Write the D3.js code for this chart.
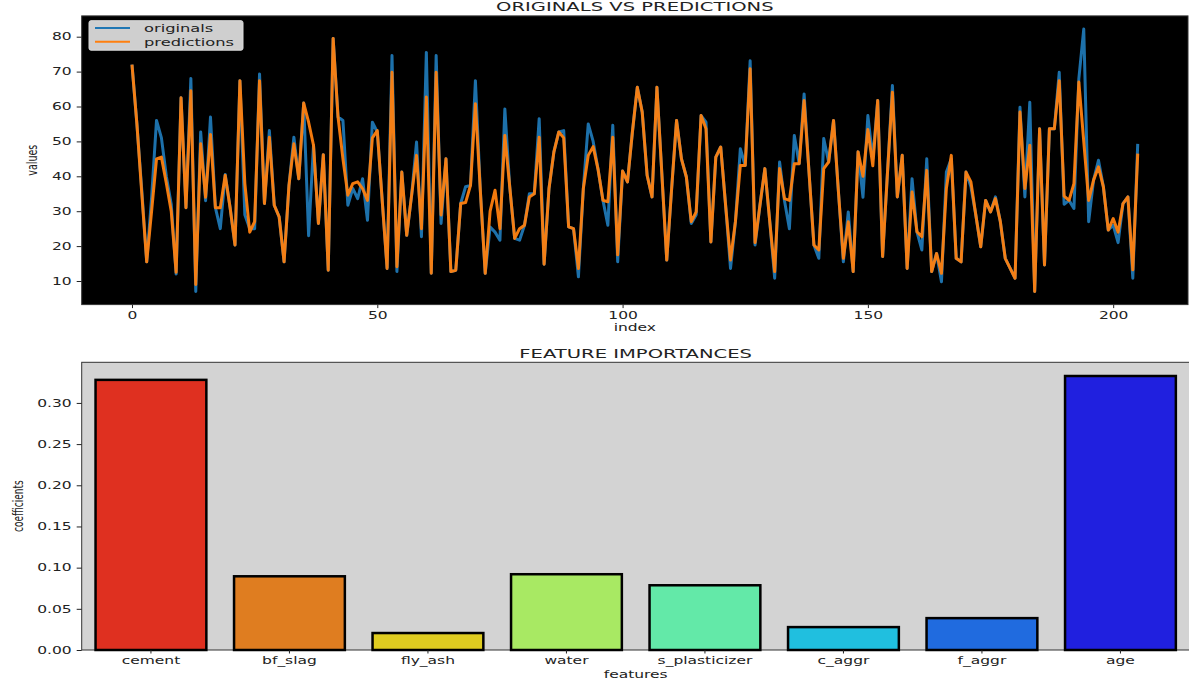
<!DOCTYPE html>
<html><head><meta charset="utf-8">
<script src="https://cdn.jsdelivr.net/npm/d3@7"></script>
<style>
body{margin:0;background:#fff;}
svg{display:block;font-family:"DejaVu Sans",sans-serif;}
</style>
</head><body>
<svg id="c" width="1189" height="679"></svg>
<script>
// ---------- DATA ----------
const originals = [
72,55,36,15.5,34,56,51,40,32,12,
62.5,31,68,7,52.7,33,57,31,25,40.5,
31,20.3,67.4,29,25,25,69.3,32.2,53.1,31.7,
28.4,15.5,37.4,51.2,39.3,61,23,48.9,26.5,46.2,
13.1,79.5,57,56,31.7,36.5,33.6,39.3,27.4,55.5,
52.7,33.1,13.6,74.6,12.7,41.2,23.1,34.6,49.8,22.7,
75.5,12.2,74.6,26.5,45,12.7,13.1,32.2,37,37.4,
67.4,36,12.2,25.5,24,21.7,59.3,37,22.2,21.7,
26,35,35,56.5,14.8,36.5,47,52.7,53.1,25.5,
25,11.2,36.5,55,50,42,33.1,26,54.6,15.5,
41.5,38.4,52.7,65.5,58.4,40.3,34.1,65.5,40.8,16,
36.5,56,45,39.8,26.5,29,57.4,55.5,21.2,45.5,
48.4,31.7,13.6,27,47.9,43.1,73.1,20.3,31.7,42.2,
27,10.8,44.1,33,25,51.7,43.6,63.6,41.2,20.3,
16.5,50.8,44.1,56,35.5,15.5,29.8,12.7,47,34,
57.4,45,61.7,17,41.2,66,34.1,46,13.6,39.3,
24.1,18.9,45,12.7,17.9,9.8,41.2,45,16.5,15.5,
41.2,37,28.9,19.8,33.1,29.8,34.1,27,16.5,13.6,
10.8,59.8,34.1,61.2,7,53.6,14.6,53.6,53.6,69.8,
32,33.1,30.8,68,82.2,27,38.9,44.6,37,24.6,
26,21,32.2,34.1,10.8,49.3
];
const predictions = [
72,55,35,15.5,30,45,45.5,38,30,12.5,
62.5,31,64.5,9,49.3,34,52,31,31,40.3,
31,20.3,67.4,38,24,27,67.4,32.2,51.2,31.7,
28.4,15.5,37.4,49.3,39.3,61,55.5,48.9,26.5,46.2,
13.1,79.5,57,45,34.6,37.9,38.4,36.5,33.1,51,
53.1,33.1,13.6,69.8,14.1,41.2,23.1,34.6,46,25,
62.7,12.2,69.8,28.9,45,12.7,13.1,32.2,32.5,37.4,
60.8,36,12.2,30,36,25,51.7,37,22.2,25,
26,34.1,35,51.2,14.8,36.5,47,52.7,51,25.5,
25,13.6,36.5,46,48.5,42,33.1,32.7,51.2,17.5,
41.5,38.4,52.7,65.5,58.4,40.3,34.1,65.5,40.8,16,
36.5,56,45,39.8,27,29.8,57.4,53.6,21.2,45.5,
48.4,31.7,16,27,43.1,43.1,70.8,21,31.7,42.2,
27,12.7,42.2,33.6,33.1,43.6,43.6,61.7,41.2,20.3,
18.9,42.2,44.1,56,35.5,16.5,27,12.7,47,40,
53.4,43,61.7,17,41.2,64.1,34.1,46,13.6,35.5,
24.1,22.7,41.7,12.7,17.9,12.2,36.5,46,16.5,15.5,
41.2,38.4,28.9,19.8,33.1,29.8,33.6,27,16.5,13.6,
10.8,58.4,36.5,48.9,7,53.6,14.6,53.6,53.6,67.4,
34.3,33.1,37.9,67,50,33.1,38.9,42.7,37,24.6,
27.9,24,32.2,34.1,13.2,46.5
];
const lineXTicks = [0,50,100,150,200];
const lineYTicks = [10,20,30,40,50,60,70,80];
const seriesNames = ["originals","predictions"];

const features = ["cement","bf_slag","fly_ash","water","s_plasticizer","c_aggr","f_aggr","age"];
const importances = [0.328,0.0895,0.0206,0.092,0.0786,0.0278,0.0387,0.3327];
const barYTicks = [0,0.05,0.10,0.15,0.20,0.25,0.30];

// ---------- STYLE ----------
const palette = ["#df3020","#df7d20","#dfcc20","#a8e963","#63e9a8","#20bfdf","#206bdf","#2020df"];
const lineColors = ["#1f77b4","#ff7f0e"];
const SX = 1.55, TSX = 1.63;
const TXT = "#222";

const svg = d3.select("#c");

function label(x, y, str, size, sx, rot) {
  return svg.append("text")
    .attr("transform", `translate(${x},${y}) scale(${sx},1)` + (rot ? ` rotate(${rot})` : ""))
    .attr("text-anchor", "middle")
    .attr("font-size", size)
    .attr("fill", TXT)
    .text(str);
}
function styleBottom(g) {
  g.select(".domain").remove();
  g.selectAll(".tick line").attr("stroke", "#222");
  g.selectAll(".tick text").each(function() {
    const t = d3.select(this);
    const y = +t.attr("y");
    t.attr("y", 0).attr("transform", `translate(0,${y}) scale(${SX},1)`)
     .attr("font-size", 10).attr("fill", TXT).attr("font-family", "DejaVu Sans");
  });
}
function styleLeft(g) {
  g.select(".domain").remove();
  g.selectAll(".tick line").attr("stroke", "#222");
  g.selectAll(".tick text").each(function() {
    const t = d3.select(this);
    t.attr("x", 0).attr("transform", `translate(-10,0) scale(${SX},1)`)
     .attr("font-size", 10).attr("fill", TXT).attr("font-family", "DejaVu Sans");
  });
}

// ---------- TOP: line chart ----------
const L = {left: 81.7, right: 1188, top: 15.9, bottom: 304.6};
const n = originals.length;
const xPad = (n - 1) * 0.05;
const x = d3.scaleLinear().domain([-xPad, n - 1 + xPad]).range([L.left, L.right]);
const all = originals.concat(predictions);
const [mn, mx] = d3.extent(all);
const yPad = (mx - mn) * 0.05;
const y = d3.scaleLinear().domain([mn - yPad, mx + yPad]).range([L.bottom, L.top]);

svg.append("rect").attr("x", L.left).attr("y", L.top)
  .attr("width", L.right - L.left).attr("height", L.bottom - L.top)
  .attr("fill", "#000").attr("stroke", "#333").attr("stroke-width", 1);

const clip = svg.append("clipPath").attr("id", "clipTop").append("rect")
  .attr("x", L.left).attr("y", L.top).attr("width", L.right - L.left).attr("height", L.bottom - L.top);

const line = d3.line().x((d, i) => x(i)).y(d => y(d));
const gLines = svg.append("g").attr("clip-path", "url(#clipTop)");
[originals, predictions].forEach((s, k) => {
  gLines.append("path").datum(s).attr("d", line)
    .attr("fill", "none").attr("stroke", lineColors[k])
    .attr("stroke-width", 3).attr("stroke-linejoin", "round").attr("opacity", 0.95);
});

svg.append("g").attr("transform", `translate(0,${L.bottom})`)
  .call(d3.axisBottom(x).tickValues(lineXTicks).tickSize(3.5).tickPadding(3.5).tickFormat(d3.format("d")))
  .call(styleBottom);
svg.append("g").attr("transform", `translate(${L.left},0)`)
  .call(d3.axisLeft(y).tickValues(lineYTicks).tickSize(5).tickFormat(d3.format("d")))
  .call(styleLeft);

label((L.left + L.right) / 2, 11.3, "ORIGINALS VS PREDICTIONS", 12, TSX);
label((L.left + L.right) / 2, 330.5, "index", 10, SX);
label(36.5, (L.top + L.bottom) / 2, "values", 9.5, SX, -90);

// legend
const lg = svg.append("g");
lg.append("rect").attr("x", 89).attr("y", 20.7).attr("width", 154).attr("height", 29.5)
  .attr("rx", 2).attr("fill", "#cfcfcf").attr("stroke", "#dadada");
seriesNames.forEach((nm, k) => {
  const yy = 28 + k * 13.7;
  lg.append("line").attr("x1", 95).attr("x2", 130).attr("y1", yy).attr("y2", yy)
    .attr("stroke", lineColors[k]).attr("stroke-width", 2);
  lg.append("text").attr("transform", `translate(144,${yy + 3.8}) scale(${SX},1)`)
    .attr("font-size", 10.5).attr("fill", TXT).text(nm);
});

// ---------- BOTTOM: bar chart ----------
const B = {left: 81.7, right: 1189.7, top: 362.3, bottom: 650};
const xb = d3.scaleBand().domain(features).range([B.left, B.right]).paddingInner(0.2).paddingOuter(0.1);
const yb = d3.scaleLinear().domain([0, d3.max(importances) * 1.05]).range([B.bottom, B.top]);

svg.append("rect").attr("x", B.left).attr("y", B.top)
  .attr("width", B.right - B.left).attr("height", B.bottom - B.top)
  .attr("fill", "#d3d3d3").attr("stroke", "#333").attr("stroke-width", 1);

svg.append("g").selectAll("rect").data(features).join("rect")
  .attr("x", d => xb(d)).attr("width", xb.bandwidth())
  .attr("y", (d, i) => yb(importances[i]))
  .attr("height", (d, i) => B.bottom - yb(importances[i]))
  .attr("fill", (d, i) => palette[i])
  .attr("stroke", "#000").attr("stroke-width", 2.5);

svg.append("g").attr("transform", `translate(0,${B.bottom})`)
  .call(d3.axisBottom(xb).tickSize(3.5).tickPadding(3.5))
  .call(styleBottom);
svg.append("g").attr("transform", `translate(${B.left},0)`)
  .call(d3.axisLeft(yb).tickValues(barYTicks).tickSize(5).tickFormat(d3.format(".2f")))
  .call(styleLeft);

label((B.left + B.right) / 2, 357.7, "FEATURE IMPORTANCES", 12, TSX);
label((B.left + B.right) / 2, 677.5, "features", 10, SX);
label(22.5, (B.top + B.bottom) / 2, "coefficients", 9, SX, -90);
</script>
</body></html>
